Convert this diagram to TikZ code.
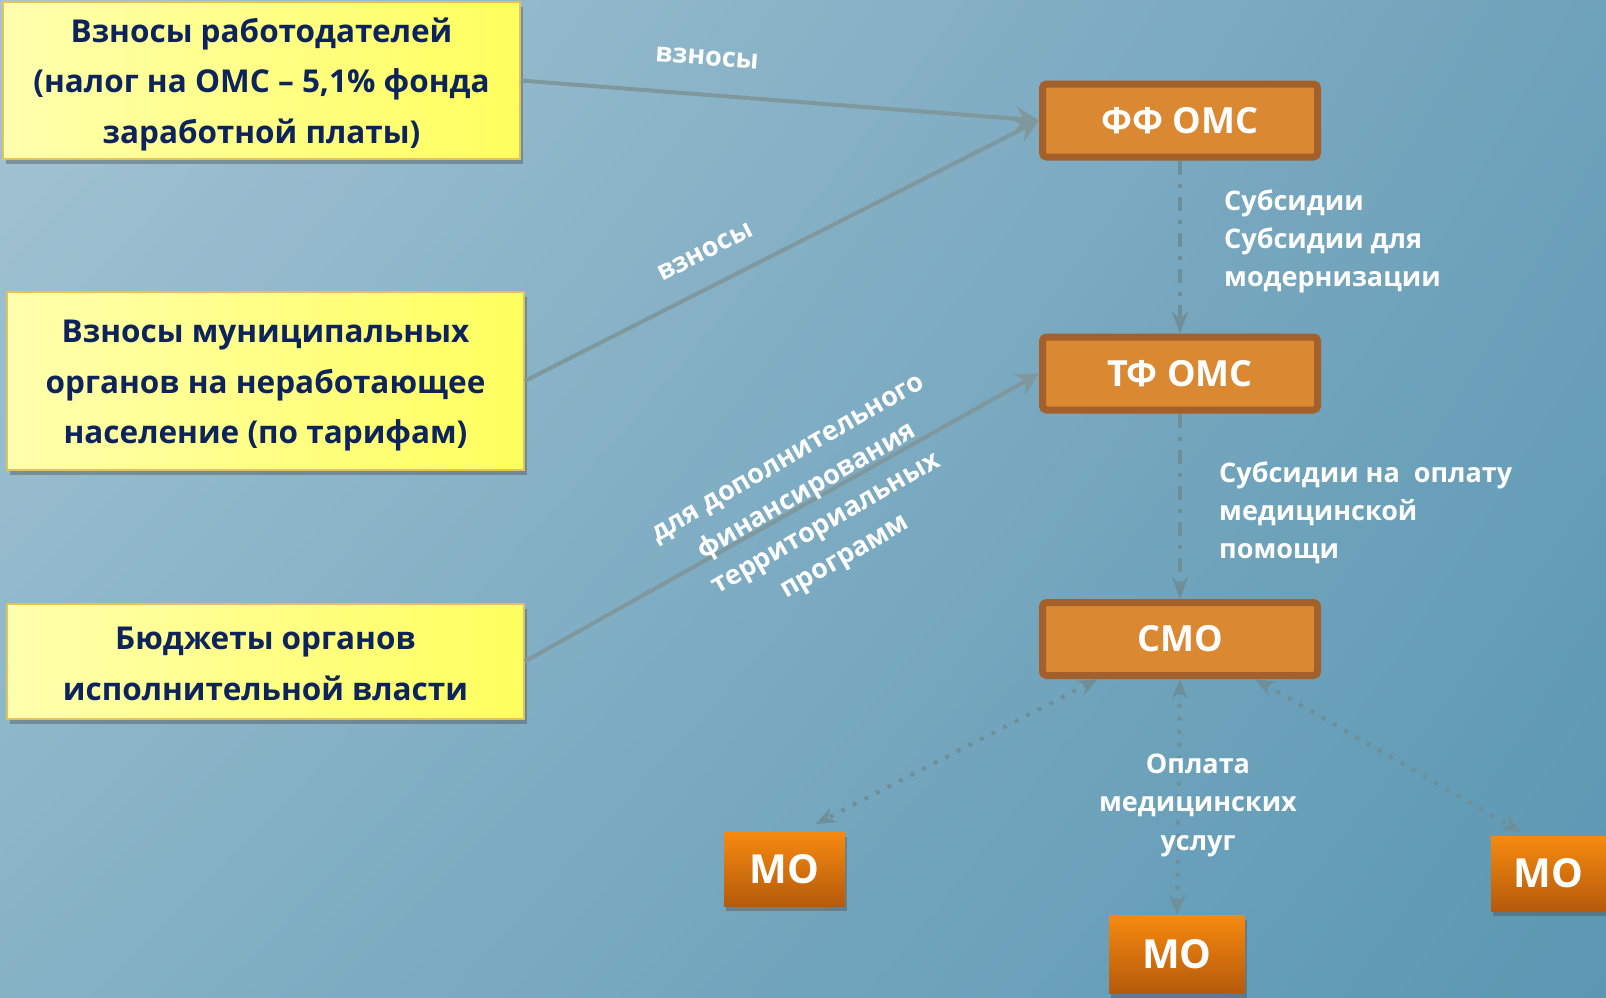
\documentclass[tikz,border=0pt]{standalone}
\usepackage{fontspec}
\setmainfont{Open Sans}
\usetikzlibrary{arrows.meta,shadows,shadings}
\definecolor{bgTL}{HTML}{A5C4D4}
\definecolor{bgTR}{HTML}{6FA2BB}
\definecolor{bgBL}{HTML}{86B2C6}
\definecolor{bgBR}{HTML}{5B97B3}
\definecolor{ylwL}{HTML}{FFFFAE}
\definecolor{ylwR}{HTML}{FFFF5E}
\definecolor{ylwB}{HTML}{E2C25A}
\definecolor{navy}{HTML}{0C235C}
\definecolor{orF}{HTML}{DB8833}
\definecolor{orB}{HTML}{A3602A}
\definecolor{moT}{HTML}{F68A10}
\definecolor{moB}{HTML}{B65A0B}
\definecolor{arr}{HTML}{7E989E}
\definecolor{darr}{HTML}{6E8F98}
\tikzset{
  srcbox/.style={draw=ylwB, line width=1.5pt, left color=ylwL, right color=ylwR,
    inner sep=0pt,
    drop shadow={shadow xshift=3pt, shadow yshift=-5pt, opacity=0.4, fill=black!70}},
  srctext/.style={text=navy, font=\fontsize{31.5}{50.5}\selectfont\bfseries,
    align=center, inner sep=0pt},
  fundbox/.style={draw=orB, line width=7pt, fill=orF, rounded corners=4pt,
    minimum width=275pt, minimum height=73pt, text=white,
    font=\fontsize{36}{40}\selectfont\bfseries, inner sep=0pt},
  mobox/.style={top color=moT, bottom color=moB, text=white,
    font=\fontsize{40}{44}\selectfont\bfseries, inner sep=0pt,
    drop shadow={shadow xshift=2pt, shadow yshift=-5pt, opacity=0.4, fill=black!70}},
  lbl/.style={text=white, font=\fontsize{27}{38}\selectfont\bfseries, inner sep=0pt},
  flow/.style={draw=arr, line width=4pt, -{Stealth[length=23pt, width=24pt, inset=8pt]}},
  dflow/.style={draw=darr, line width=4pt, dash pattern=on 14pt off 9pt on 4pt off 9pt,
    -{Stealth[length=22pt, width=16pt, inset=8pt]}},
  pflow/.style={draw=darr, line width=4pt, dash pattern=on 4pt off 9pt,
    {Stealth[length=20pt, width=16pt, inset=7pt]}-{Stealth[length=20pt, width=16pt, inset=7pt]}}
}
\begin{document}
\begin{tikzpicture}[x=1pt, y=-1pt]
\useasboundingbox (0,0) rectangle (1606,997);
\shade[upper left=bgTL, upper right=bgTR, lower left=bgBL, lower right=bgBR] (0,0) rectangle (1606,997);

% source boxes
\node[srcbox, minimum width=517pt, minimum height=157pt] (src1) at (261.5,80.5) {};
\node[srctext] (src1t) at (261.5,84) {Взносы работодателей\\(налог на ОМС – 5,1\% фонда\\заработной платы)};
\node[srcbox, minimum width=517pt, minimum height=178pt] (src2) at (265.5,381) {};
\node[srctext] (src2t) at (265.5,386) {Взносы муниципальных\\органов на неработающее\\население (по тарифам)};
\node[srcbox, minimum width=517pt, minimum height=115pt] (src3) at (265.5,661.5) {};
\node[srctext] (src3t) at (265.5,664) {Бюджеты органов\\исполнительной власти};

% fund boxes
\node[fundbox] (ff) at (1180,120.5) {ФФ ОМС};
\node[fundbox] (tf) at (1180,373.5) {ТФ ОМС};
\node[fundbox] (smo) at (1180,639) {СМО};

% MO boxes
\node[mobox, minimum width=121pt, minimum height=74pt] (mo1) at (784.5,869) {МО};
\node[mobox, minimum width=136pt, minimum height=78pt] (mo2) at (1177,954) {МО};
\node[mobox, minimum width=115pt, minimum height=75pt] (mo3) at (1548.5,873.5) {МО};

\coordinate (mo1tip) at (816,824);
\coordinate (mo3tip) at (1521,832);

% connectors
\draw[flow] (src1.east) -- (ff.west);
\draw[flow] (src2.east) -- (ff.west);
\draw[flow] (src3.east) -- (tf.west);
\draw[dflow] (ff.south) -- (tf.north);
\draw[dflow] (tf.south) -- (smo.north);
\draw[pflow] (smo.south) -- (mo2.north);
\draw[pflow] (smo.206.85) -- (mo1tip);
\draw[pflow] (smo.332.85) -- (mo3tip);

% labels
\node[lbl, rotate=-4.4] (w1) at (707,58) {взносы};
\node[lbl, rotate=26.7] (w2) at (705,252) {взносы};
\node[lbl, rotate=30, align=center] (dop) at (818,510)
  {для дополнительного\\финансирования\\территориальных\\программ};
\node[lbl, anchor=west, align=left] (sub1) at (1224,241)
  {Субсидии\\Субсидии для\\модернизации};
\node[lbl, anchor=west, align=left] (sub2) at (1219,513)
  {Субсидии на\ \ оплату\\медицинской\\помощи};
\node[lbl, align=center, font=\fontsize{27}{38.5}\selectfont\bfseries] (opl) at (1198,805)
  {Оплата\\медицинских\\услуг};
\end{tikzpicture}
\end{document}
